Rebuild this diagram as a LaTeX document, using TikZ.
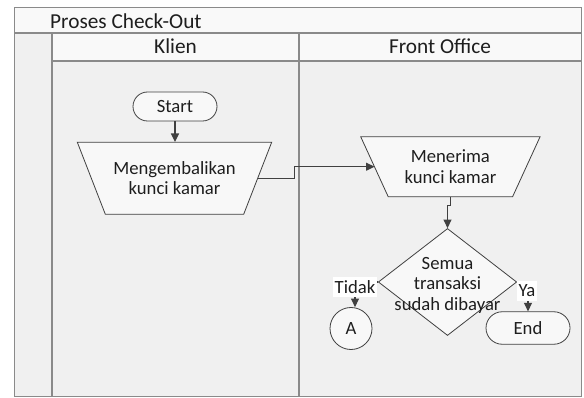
\documentclass[tikz,border=0pt]{standalone}
\usepackage{fontspec}
\setmainfont{Carlito}
\usetikzlibrary{shapes.geometric,shapes.misc,arrows.meta}
\definecolor{frameline}{HTML}{8A8A8A}
\definecolor{lanebg}{HTML}{F0F0F0}
\definecolor{headbg}{HTML}{F9F9F9}
\definecolor{shapeline}{HTML}{404040}
\definecolor{shapefill}{HTML}{F8F8F8}
\definecolor{txtcol}{HTML}{1E1E1E}
\begin{document}
\begin{tikzpicture}[x=1pt,y=-1pt,
  frame/.style={draw=frameline,line width=1.2pt},
  hdr/.style={font=\fontsize{21.3}{25}\selectfont,text=txtcol,inner sep=0pt},
  txt/.style={font=\fontsize{18.67}{20.5}\selectfont,text=txtcol,align=center,inner sep=0pt},
  shp/.style={draw=shapeline,fill=shapefill,line width=0.8pt},
  term/.style={rounded rectangle,shp,txt,minimum width=84pt},
  conn/.style={draw=shapeline,line width=1.2pt,-{Triangle[width=8pt,length=8.5pt]}},
  lbl/.style={txt,fill=white,inner xsep=1.5pt,inner ysep=0pt,minimum height=20pt}]
\useasboundingbox (0,0) rectangle (584,398);
% swimlane frame
\fill[lanebg] (14.5,7.5) rectangle (581.5,396.5);
\fill[headbg] (14.5,7.5) rectangle (581.5,33);
\fill[headbg] (52,33) rectangle (581.5,61);
\draw[frame] (14.5,7.5) rectangle (581.5,396.5);
\draw[frame] (14.5,33) -- (581.5,33);
\draw[frame] (52,33) -- (52,396.5);
\draw[frame] (52,61) -- (581.5,61);
\draw[frame] (299,33) -- (299,396.5);
\node[hdr,anchor=base west] (title) at (50,28.3) {Proses Check-Out};
\node[hdr,anchor=base] (klien) at (175.5,53.3) {Klien};
\node[hdr,anchor=base] (fo) at (440,53.3) {Front Office};
% Start
\node[term,minimum height=29pt] (S) at (175,106.5) {Start};
% Trapezoid 1
\coordinate (T1c) at (174.5,178.2);
\filldraw[shp] ([shift={(-97.2,-36)}]T1c) -- ([shift={(97.2,-36)}]T1c)
  -- ([shift={(69.2,36)}]T1c) -- ([shift={(-69.2,36)}]T1c) -- cycle;
\node[txt,minimum width=194.4pt,minimum height=72pt] (T1) at (T1c) {Mengembalikan\\kunci kamar};
\coordinate (T1r) at ([xshift=83.2]T1c);
% Trapezoid 2
\coordinate (T2c) at (450.4,166.7);
\filldraw[shp] ([shift={(-89.7,-30)}]T2c) -- ([shift={(89.7,-30)}]T2c)
  -- ([shift={(62.2,30)}]T2c) -- ([shift={(-62.2,30)}]T2c) -- cycle;
\node[txt,minimum width=179.4pt,minimum height=60pt] (T2) at (T2c) {Menerima\\kunci kamar};
\coordinate (T2l) at ([xshift=-75.9]T2c);
% Decision
\node[diamond,shp,minimum width=138.4pt,minimum height=107pt,inner sep=0pt] (D) at (447.5,282) {};
\node[txt] (Dt) at (447.5,285) {Semua\\transaksi\\sudah dibayar};
% Connector A and End
\node[circle,shp,txt,minimum size=42pt] (A) at (351,328.5) {A};
\node[term,minimum height=32.5pt] (E) at (528,328) {End};
% connectors
\draw[conn] (S.south) -- (S.south |- T1.north);
\draw[conn] (T1r) -- ++(36.5,0) |- (T2l);
\draw[conn] (T2.south) -- ++(0,9) -| (D.north);
\draw[conn] (D.west) -| ([xshift=4pt]A.north);
\draw[conn] (D.east) -| (E.north);
\node[lbl] (tidak) at (355,287) {Tidak};
\node[lbl] (ya) at (527,291) {Ya};
\end{tikzpicture}
\end{document}
